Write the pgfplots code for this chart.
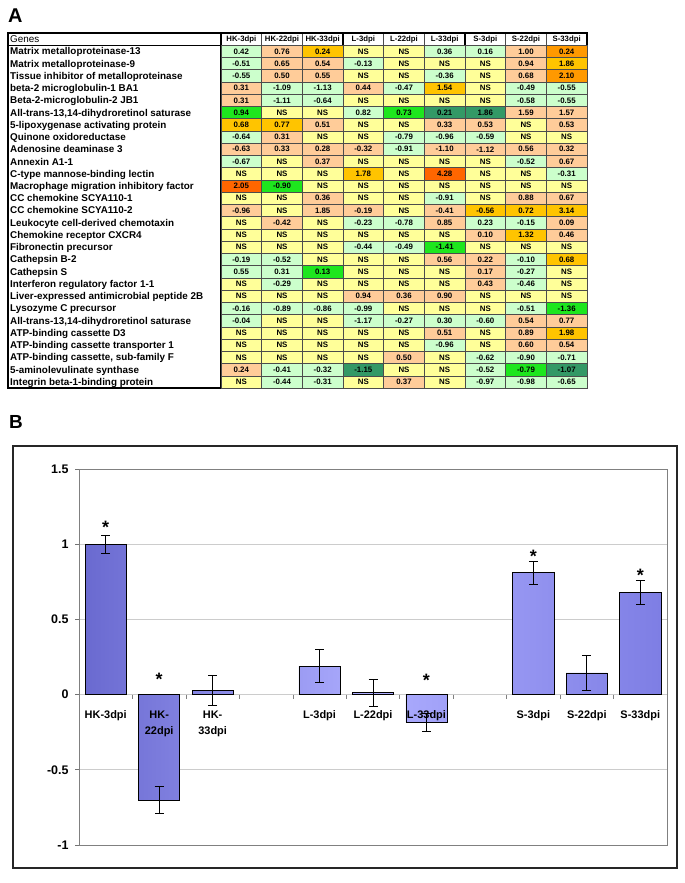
\documentclass[border=0pt]{standalone}
\usepackage{fontspec}
\setmainfont{Liberation Sans}
\usepackage{pgfplots}
\usepackage{pgfplotstable}
\pgfplotsset{compat=1.18}

\definecolor{cY}{HTML}{FFFF99}
\definecolor{cG}{HTML}{CCFFCC}
\definecolor{cP}{HTML}{FFCC99}
\definecolor{cO}{HTML}{FFC400}
\definecolor{cA}{HTML}{FF9900}
\definecolor{cR}{HTML}{FF6600}
\definecolor{cB}{HTML}{1EE61E}
\definecolor{cD}{HTML}{339966}
\definecolor{bL}{HTML}{6A6AD0}
\definecolor{bM}{HTML}{ADADFF}
\definecolor{bR}{HTML}{7E7EE4}

% one table cell, drawn around each data point
\pgfdeclareplotmark{cell}{%
  \pgfpathrectangle{\pgfpoint{-20.33bp}{-6.12bp}}{\pgfpoint{40.67bp}{12.24bp}}%
  \pgfusepathqfillstroke}

\pgfplotsset{
  cellclasses/.style={scatter/classes={
    Y={mark=cell, fill=cY, draw=black!70, line width=0.5bp},
    G={mark=cell, fill=cG, draw=black!70, line width=0.5bp},
    P={mark=cell, fill=cP, draw=black!70, line width=0.5bp},
    O={mark=cell, fill=cO, draw=black!70, line width=0.5bp},
    A={mark=cell, fill=cA, draw=black!70, line width=0.5bp},
    R={mark=cell, fill=cR, draw=black!70, line width=0.5bp},
    B={mark=cell, fill=cB, draw=black!70, line width=0.5bp},
    D={mark=cell, fill=cD, draw=black!70, line width=0.5bp}}},
  % tick labels above the bars, grid below them
  layers/labelsontop/.define layer set={
    axis background,axis grid,axis ticks,axis lines,pre main,main,
    axis tick labels,axis descriptions,axis foreground}{
    grid style={/pgfplots/on layer=axis grid},
    tick style={/pgfplots/on layer=axis ticks},
    axis line style={/pgfplots/on layer=axis lines},
    label style={/pgfplots/on layer=axis descriptions},
    ticklabel style={/pgfplots/on layer=axis tick labels},
  },
}

% v0..v8: HK-3, HK-22, HK-33, L-3, L-22, L-33, S-3, S-22, S-33 ; c0..c8: cell colour class
\pgfplotstableread{
row v0 v1 v2 v3 v4 v5 v6 v7 v8 c0 c1 c2 c3 c4 c5 c6 c7 c8
1 0.42 0.76 0.24 NS NS 0.36 0.16 1.00 0.24 G P O Y Y G G P A
2 -0.51 0.65 0.54 -0.13 NS NS NS 0.94 1.86 G P P G Y Y Y P O
3 -0.55 0.50 0.55 NS NS -0.36 NS 0.68 2.10 G P P Y Y G Y P A
4 0.31 -1.09 -1.13 0.44 -0.47 1.54 NS -0.49 -0.55 P G G P G O Y G G
5 0.31 -1.11 -0.64 NS NS NS NS -0.58 -0.55 P G G Y Y Y Y G G
6 0.94 NS NS 0.82 0.73 0.21 1.86 1.59 1.57 B Y Y G B D D P P
7 0.68 0.77 0.51 NS NS 0.33 0.53 NS 0.53 O O P Y Y P P Y P
8 -0.64 0.31 NS NS -0.79 -0.96 -0.59 NS NS G P Y Y G G G Y Y
9 -0.63 0.33 0.28 -0.32 -0.91 -1.10 -1.12 0.56 0.32 P P P P G P P P P
10 -0.67 NS 0.37 NS NS NS NS -0.52 0.67 G Y P Y Y Y Y G P
11 NS NS NS 1.78 NS 4.28 NS NS -0.31 Y Y Y O Y R Y Y G
12 2.05 -0.90 NS NS NS NS NS NS NS R B Y Y Y Y Y Y Y
13 NS NS 0.36 NS NS -0.91 NS 0.88 0.67 Y Y P Y Y G Y P P
14 -0.96 NS 1.85 -0.19 NS -0.41 -0.56 0.72 3.14 P Y P P Y P O O O
15 NS -0.42 NS -0.23 -0.78 0.85 0.23 -0.15 0.09 Y P Y G G P G G P
16 NS NS NS NS NS NS 0.10 1.32 0.46 Y Y Y Y Y Y P O P
17 NS NS NS -0.44 -0.49 -1.41 NS NS NS Y Y Y G G B Y Y Y
18 -0.19 -0.52 NS NS NS 0.56 0.22 -0.10 0.68 G G Y Y Y P P G O
19 0.55 0.31 0.13 NS NS NS 0.17 -0.27 NS G G B Y Y Y P G Y
20 NS -0.29 NS NS NS NS 0.43 -0.46 NS Y G Y Y Y Y P G Y
21 NS NS NS 0.94 0.36 0.90 NS NS NS Y Y Y P P P Y Y Y
22 -0.16 -0.89 -0.86 -0.99 NS NS NS -0.51 -1.36 G G G G Y Y Y G B
23 -0.04 NS NS -1.17 -0.27 0.30 -0.60 0.54 0.77 G Y Y G G G G P P
24 NS NS NS NS NS 0.51 NS 0.89 1.98 Y Y Y Y Y P Y P O
25 NS NS NS NS NS -0.96 NS 0.60 0.54 Y Y Y Y Y G Y P P
26 NS NS NS NS 0.50 NS -0.62 -0.90 -0.71 Y Y Y Y P Y G G G
27 0.24 -0.41 -0.32 -1.15 NS NS -0.52 -0.79 -1.07 P G G D Y Y G B D
28 NS -0.44 -0.31 NS 0.37 NS -0.97 -0.98 -0.65 Y G G Y P Y G G G
}\genetab

% bar chart: slot, mean, error
\pgfplotstableread{
x y e
0 1.00 0.06
1 -0.70 0.09
2 0.03 0.10
4 0.19 0.11
5 0.013 0.09
6 -0.184 0.06
8 0.81 0.075
9 0.144 0.116
10 0.68 0.078
}\bartab

\pgfplotstableread{
x y
0 1.13
1 0.12
6 0.115
8 0.94
10 0.81
}\startab

\begin{document}
\begin{tikzpicture}

% ---------- A ----------
\node[anchor=west, inner sep=0pt, font=\bfseries\fontsize{20}{20}\selectfont] at (8bp,867bp) {A};
\draw[line width=1.3bp] (8bp,495bp) rectangle (221bp,850bp);
\draw[line width=0.8bp] (8bp,837.76bp) -- (221bp,837.76bp);

\begin{axis}[
  at={(404bp,672.5bp)}, anchor=center,
  scale only axis, width=366bp, height=355bp,
  xmin=-0.5, xmax=8.5, ymin=-28.5, ymax=0.5,
  axis line style={line width=1.3bp},
  major tick length=0pt, minor tick length=0pt,
  xtick={0,...,8},
  xticklabels={HK-3dpi,HK-22dpi,HK-33dpi,L-3dpi,L-22dpi,L-33dpi,S-3dpi,S-22dpi,S-33dpi},
  xticklabel pos=upper,
  xticklabel style={anchor=center, yshift=-6.12bp, inner sep=0pt,
    font=\bfseries\fontsize{7.8}{8}\selectfont},
  ytick={-28,-27,...,0},
  yticklabels={Integrin beta-1-binding protein, 5-aminolevulinate synthase,
    {ATP-binding cassette, sub-family F}, ATP-binding cassette transporter 1,
    ATP-binding cassette D3, {All-trans-13,14-dihydroretinol saturase},
    Lysozyme C precursor, Liver-expressed antimicrobial peptide 2B,
    Interferon regulatory factor 1-1, Cathepsin S, Cathepsin B-2,
    Fibronectin precursor, Chemokine receptor CXCR4,
    Leukocyte cell-derived chemotaxin, CC chemokine SCYA110-2,
    CC chemokine SCYA110-1, Macrophage migration inhibitory factor,
    C-type mannose-binding lectin, Annexin A1-1, Adenosine deaminase 3,
    Quinone oxidoreductase, 5-lipoxygenase activating protein,
    {All-trans-13,14-dihydroretinol saturase}, Beta-2-microglobulin-2 JB1,
    beta-2 microglobulin-1 BA1, Tissue inhibitor of metalloproteinase,
    Matrix metalloproteinase-9, Matrix metalloproteinase-13, {\mdseries Genes}},
  yticklabel style={anchor=base west, xshift=-211bp, yshift=-3.5bp, inner sep=0pt,
    font=\bfseries\fontsize{9.9}{10}\selectfont},
  minor xtick={0.5,1.5,...,7.5},
  minor ytick={-27.5,-26.5,...,-0.5},
  xminorgrids, yminorgrids,
  minor grid style={black!70, line width=0.5bp},
]
\pgfplotsinvokeforeach{0,...,8}{
  \addplot[scatter, only marks, cellclasses, point meta=explicit symbolic]
    table[x expr=#1, y expr=-\thisrow{row}, meta=c#1] {\genetab};
  \addplot[draw=none, mark=none, nodes near coords, point meta=explicit symbolic,
    nodes near coords style={anchor=center, inner sep=0pt, text=black,
      font=\bfseries\fontsize{7.9}{8}\selectfont}]
    table[x expr=#1, y expr=-\thisrow{row}, meta=v#1] {\genetab};
}
\draw[line width=1.3bp] (axis cs:2.5,-28.5) -- (axis cs:2.5,0.5);
\draw[line width=1.3bp] (axis cs:5.5,-28.5) -- (axis cs:5.5,0.5);
\end{axis}

% ---------- B ----------
\node[anchor=west, inner sep=0pt, font=\bfseries\fontsize{19}{19}\selectfont] at (9bp,461.5bp) {B};
\draw[line width=1.1bp, black!85] (13bp,15bp) rectangle (677bp,437bp);

\begin{axis}[
  set layers=labelsontop,
  at={(373bp,226bp)}, anchor=center,
  scale only axis, width=588bp, height=376bp,
  xmin=-0.5, xmax=10.5, ymin=-1, ymax=1.5,
  axis line style={black!50, line width=0.7bp},
  ytick={-1,-0.5,0,0.5,1,1.5},
  yticklabels={-1,-0.5,0,0.5,1,1.5},
  ymajorgrids, grid style={black!20, line width=0.6bp},
  ytick pos=left, tick align=outside, major tick length=4bp,
  y tick style={black!55, line width=0.6bp},
  yticklabel style={xshift=-3bp, font=\bfseries\fontsize{12.5}{13}\selectfont},
  xtick={0,1,2,4,5,6,8,9,10},
  xticklabels={HK-3dpi,{HK-\\22dpi},{HK-\\33dpi},L-3dpi,L-22dpi,L-33dpi,S-3dpi,S-22dpi,S-33dpi},
  x tick style={draw=none},
  xticklabel style={align=center, anchor=north, inner sep=0pt, yshift=138.5bp,
    font=\bfseries\fontsize{11}{16.3}\selectfont},
]
\addplot[ybar, bar width=0.77, draw=black, line width=0.6bp,
  left color=bL, right color=bR, middle color=bM]
  table[x=x, y=y] {\bartab};
\addplot[draw=none, mark=none,
  error bars/.cd, y dir=both, y explicit,
  error bar style={draw=black, line width=0.7bp},
  error mark options={rotate=90, draw=black, mark size=4.5bp, line width=0.7bp}]
  table[x=x, y=y, y error=e] {\bartab};
\addplot[draw=none, mark=none, nodes near coords={*},
  nodes near coords style={anchor=center, inner sep=0pt, yshift=-3bp,
    font=\bfseries\fontsize{18}{18}\selectfont}]
  table[x=x, y=y] {\startab};
\pgfplotsinvokeforeach{0.5,1.5,...,9.5}{
  \draw[black!50, line width=0.6bp] (axis cs:#1,0) -- ([yshift=-4bp]axis cs:#1,0);
}
\end{axis}

% page size of the reference
\path (0,0) rectangle (685bp,883bp);
\end{tikzpicture}
\end{document}
